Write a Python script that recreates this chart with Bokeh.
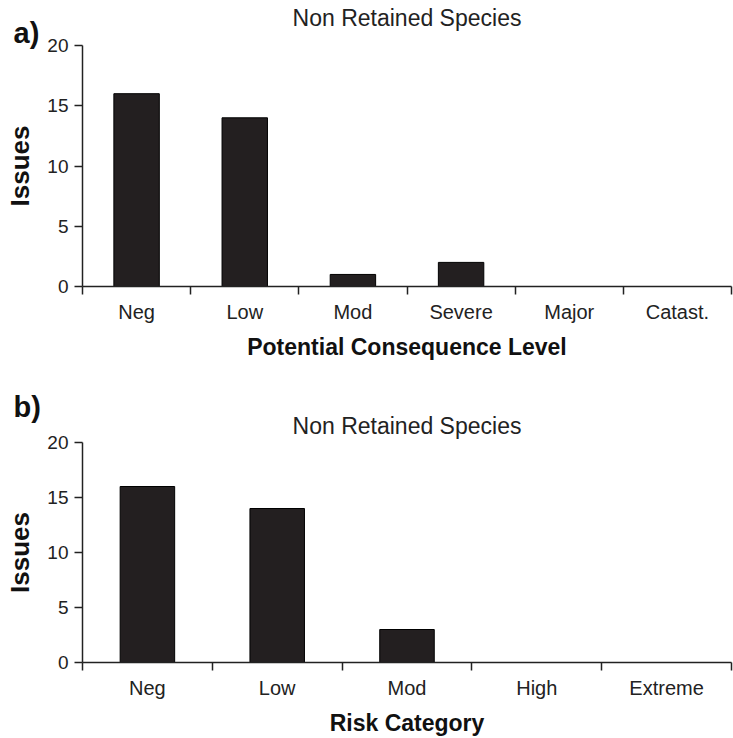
import numpy as np
from bokeh.plotting import figure
from bokeh.layouts import column
from bokeh.models import Range1d, FixedTicker, ColumnDataSource, Title
from bokeh.embed import file_html
from bokeh.resources import INLINE

# ---- data ----
cats_a = ["Neg", "Low", "Mod", "Severe", "Major", "Catast."]
vals_a = [16, 14, 1, 2, 0, 0]
cats_b = ["Neg", "Low", "Mod", "High", "Extreme"]
vals_b = [16, 14, 3, 0, 0]
y_ticks = [0, 5, 10, 15, 20]
title_text = "Non Retained Species"
xlabel_a = "Potential Consequence Level"
xlabel_b = "Risk Category"
ylabel = "Issues"
tag_a = "a)"
tag_b = "b)"

FONT = "Liberation Sans"
TXT = "#222222"
BAR = "#231f20"


def set_standoff(t, v):
    try:
        t.standoff = v
    except Exception:
        t.standoff = 0


def make(cats, vals, xlabel, tag, height, top, bottom,
         tag_first, title_standoff, tag_standoff):
    n = len(cats)
    centers = np.arange(n) + 0.5   # category slot centres on the x scale
    src = ColumnDataSource(dict(x=centers, top=vals, cat=cats))
    p = figure(x_range=Range1d(0, n), y_range=Range1d(0, 20),
               width=733, height=height, output_backend="svg", toolbar_location=None,
               min_border_left=82, min_border_right=2,
               min_border_top=top, min_border_bottom=bottom,
               title_location=None)
    p.outline_line_color = None
    p.xgrid.visible = False
    p.ygrid.visible = False
    p.background_fill_color = "white"
    p.border_fill_color = "white"

    main_t = Title(text=title_text, align="center", text_font=FONT,
                   text_font_size="23px", text_font_style="normal",
                   text_color=TXT)
    set_standoff(main_t, title_standoff)
    tag_t = Title(text=tag, align="left", offset=-69, text_font=FONT,
                  text_font_size="29px", text_font_style="bold",
                  text_color="#111111")
    set_standoff(tag_t, tag_standoff)
    if tag_first:
        p.add_layout(tag_t, "above")
        p.add_layout(main_t, "above")
    else:
        p.add_layout(main_t, "above")
        p.add_layout(tag_t, "above")

    p.vbar(x="x", top="top", width=0.42, bottom=0, source=src,
           fill_color=BAR, line_color="#000000", line_width=1)

    xa = p.xaxis[0]
    xa.ticker = FixedTicker(ticks=list(centers), minor_ticks=list(range(n + 1)))
    xa.major_label_overrides = {float(c): s for c, s in zip(centers, cats)}
    xa.major_tick_out = 0
    xa.major_tick_in = 0
    xa.minor_tick_out = 8
    xa.minor_tick_in = 0
    xa.minor_tick_line_color = TXT
    xa.minor_tick_line_width = 1.5
    xa.axis_line_color = TXT
    xa.axis_line_width = 1.5
    xa.major_label_standoff = 6
    xa.major_label_text_font = FONT
    xa.major_label_text_font_size = "20px"
    xa.major_label_text_color = TXT
    xa.axis_label = xlabel
    xa.axis_label_text_font = FONT
    xa.axis_label_text_font_size = "23px"
    xa.axis_label_text_font_style = "bold"
    xa.axis_label_text_color = "#111111"
    xa.axis_label_standoff = 8

    ya = p.yaxis[0]
    ya.ticker = FixedTicker(ticks=y_ticks)
    ya.major_tick_out = 8
    ya.major_tick_in = 0
    ya.minor_tick_line_color = None
    ya.major_tick_line_color = TXT
    ya.major_tick_line_width = 1.5
    ya.axis_line_color = TXT
    ya.axis_line_width = 1.5
    ya.major_label_standoff = 6
    ya.major_label_text_font = FONT
    ya.major_label_text_font_size = "19px"
    ya.major_label_text_color = TXT
    ya.axis_label = ylabel
    ya.axis_label_text_font = FONT
    ya.axis_label_text_font_size = "26px"
    ya.axis_label_text_font_style = "bold"
    ya.axis_label_text_color = "#111111"
    ya.axis_label_standoff = 9
    return p


pa = make(cats_a, vals_a, xlabel_a, tag_a, 380, 45, 94,
          tag_first=True, title_standoff=-26.4, tag_standoff=-6.3)
pb = make(cats_b, vals_b, xlabel_b, tag_b, 358, 62, 72,
          tag_first=False, title_standoff=7.5, tag_standoff=-33.3)

layout = column(pa, pb, spacing=0)
open("out.html", "w").write(file_html(layout, INLINE))
